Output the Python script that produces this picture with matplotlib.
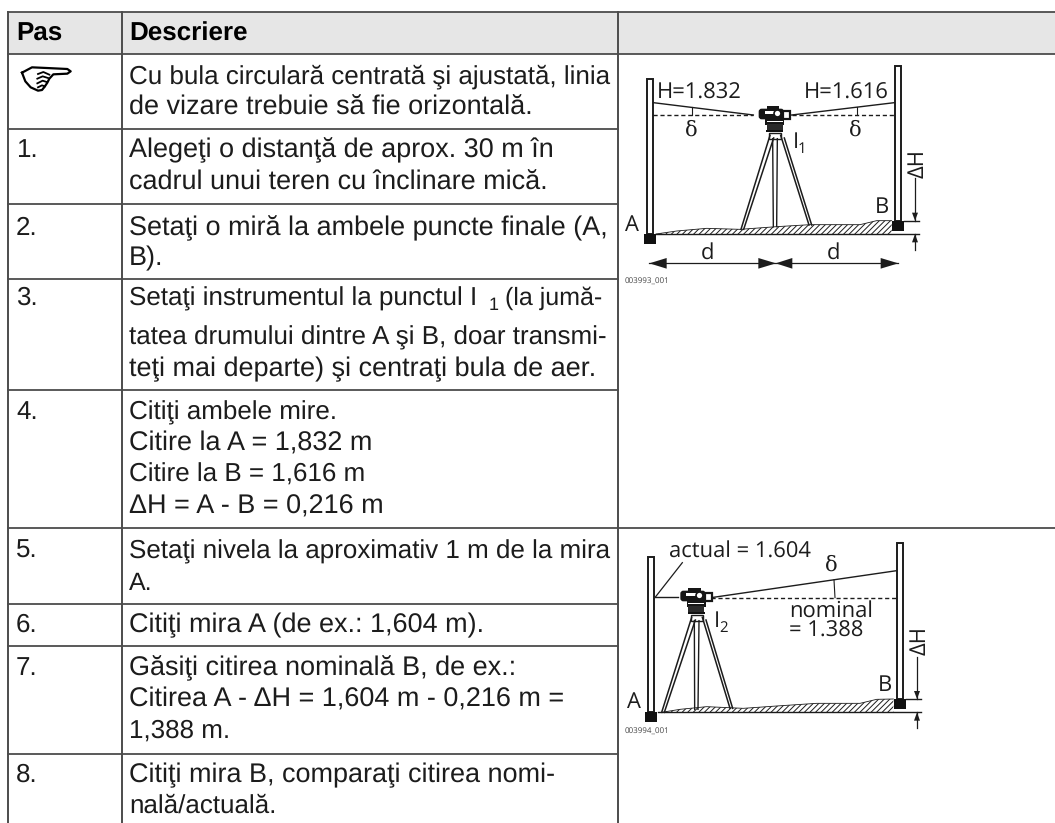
import matplotlib
matplotlib.use("Agg")
import matplotlib.pyplot as plt
from matplotlib.patches import FancyBboxPatch, Polygon, Rectangle

plt.rcParams["font.family"] = ["Liberation Sans", "DejaVu Sans"]
plt.rcParams["hatch.linewidth"] = 0.7
plt.rcParams["text.hinting"] = "no_hinting"
plt.rcParams["text.hinting_factor"] = 1

WIDTH, HEIGHT = 1055, 823
LINE = "#4c4c4c"
INK = "#1c1c1c"
TEXT_SIZE = 19.0
DIA_SIZE = 15.8

# table content
header = ["Pas", "Descriere"]
steps = ["", "1.", "2.", "3.", "4.", "5.", "6.", "7.", "8."]
descriptions = [
    ["Cu bula circulară centrată şi ajustată, linia",
     "de vizare trebuie să fie orizontală."],
    ["Alegeţi o distanţă de aprox. 30 m în",
     "cadrul unui teren cu înclinare mică."],
    ["Setaţi o miră la ambele puncte finale (A,",
     "B)."],
    ["Setaţi instrumentul la punctul I",
     "tatea drumului dintre A şi B, doar transmi-",
     "teţi mai departe) şi centraţi bula de aer."],
    ["Citiţi ambele mire.",
     "Citire la A = 1,832 m",
     "Citire la B = 1,616 m",
     "ΔH = A - B = 0,216 m"],
    ["Setaţi nivela la aproximativ 1 m de la mira",
     "A."],
    ["Citiţi mira A (de ex.: 1,604 m)."],
    ["Găsiţi citirea nominală B, de ex.:",
     "Citirea A - ΔH = 1,604 m - 0,216 m =",
     "1,388 m."],
    ["Citiţi mira B, comparaţi citirea nomi-",
     "nală/actuală."],
]
row_lines = [54, 129, 204, 278.5, 390, 528, 603.5, 646, 753.5]
first_baselines = [83, 157, 235, 305, 419, 558, 632, 675, 782]
line_offsets = [
    [0, 32], [0, 33], [0, 30], [0, 39, 71], [0, 32, 63, 95],
    [0, 32], [0], [0, 32, 63], [0, 31],
]
# right end of every description line
line_ends = [
    [607, 527], [548, 541], [600, 163], [484, 613, 589], [341, 370, 370, 382],
    [606, 153], [480], [510, 561, 231], [548, 278],
]
full_width_lines = [12, 54, 528]

# pointing hand outline, in units of a 3x crop of the cell
hand_x = [36, 66, 110, 172, 182, 172, 130, 118, 112, 104, 96, 84, 62, 46, 36]
hand_y = [44, 28, 30, 33, 40, 47, 49, 62, 74, 86, 96, 98, 88, 70, 44]
hand_folds = [
    ([84, 100, 118], [48, 42, 50]),
    ([82, 98, 114], [62, 55, 60]),
    ([82, 98, 110], [76, 68, 72]),
    ([84, 96, 104], [88, 82, 85]),
]

# diagram labels
readings_1 = ["H=1.832", "H=1.616"]
readings_2 = ["actual = 1.604", "nominal", "= 1.388"]
image_ids = ["003993_001", "003994_001"]

# terrain outlines, in units of the 3x crop of each diagram
terrain_1_x = [138, 200, 290, 390, 500, 600, 750, 800, 845]
terrain_1_y = [552, 543, 535, 538, 530, 524, 524, 512, 512]
terrain_2_x = [155, 210, 290, 400, 500, 620, 750, 800, 850]
terrain_2_y = [637, 628, 620, 625, 618, 610, 610, 598, 597]


def draw_hand(ax):
    ax.plot(hand_x, hand_y, color="black", lw=1.6, solid_joinstyle="round")
    for xs, ys in hand_folds:
        ax.plot(xs, ys, color="black", lw=1.3)


def fit_text(fig, text, x_start, x_end):
    # the source sets each line to its own width, so scale the size to match
    # 0.984: drawn lines came out about that much wider than the measured box
    renderer = fig.canvas.get_renderer()
    box = text.get_window_extent(renderer)
    text.set_fontsize(text.get_fontsize() * 0.984 * (x_end - x_start) / box.width)


def draw_table(fig, ax):
    ax.add_patch(Rectangle((8, 12), WIDTH - 8, 42, fc="#e6e6e6", ec="none"))
    for y in row_lines + [12]:
        x1 = WIDTH if y in full_width_lines else 618
        ax.plot([8, x1], [y, y], color=LINE, lw=1.3)
    for x in [8, 122, 618]:
        ax.plot([x, x], [12, HEIGHT], color=LINE, lw=1.4)

    ax.text(16, 41, header[0], fontsize=TEXT_SIZE, weight="bold", color="black")
    ax.text(129, 41, header[1], fontsize=TEXT_SIZE, weight="bold", color="black")

    for i, step in enumerate(steps):
        ax.text(16, first_baselines[i], step, fontsize=TEXT_SIZE, color=INK)
        for line, offset, x_end in zip(descriptions[i], line_offsets[i], line_ends[i]):
            text = ax.text(129, first_baselines[i] + offset, line,
                           fontsize=TEXT_SIZE, color=INK)
            fit_text(fig, text, 129, x_end)

    # rest of row 3, set after the subscript
    ax.text(489, first_baselines[3] + 5, "1", fontsize=13, color=INK)
    tail = ax.text(505, first_baselines[3], "(la jumă-", fontsize=TEXT_SIZE, color=INK)
    fit_text(fig, tail, 505, 604)


def draw_staff(ax, x0, x1, top, bottom):
    ax.add_patch(Rectangle((x0, top), x1 - x0, bottom - top, fc="white",
                           ec=INK, lw=1.4))
    ax.add_patch(Rectangle((x0 - 9, bottom), x1 - x0 + 18, 30, fc="#111111",
                           ec="none", zorder=3))


def draw_level(ax, cx, cy, ground_left, ground_mid, ground_right):
    # tripod
    head_y = cy + 60
    leg_x = [(cx - 12, ground_left[0], ground_left[1]),
             (cx + 20, ground_right[0], ground_right[1])]
    for x, gx, gy in leg_x:
        ax.plot([x, gx], [head_y, gy], color=INK, lw=1.1)
        ax.plot([x + 11, gx + 8], [head_y + 8, gy], color=INK, lw=1.1)
    ax.plot([cx - 4, ground_mid[0] - 4], [head_y + 10, ground_mid[1]], color=INK, lw=1.0)
    ax.plot([cx + 10, ground_mid[0] + 6], [head_y + 10, ground_mid[1]], color=INK, lw=1.0)
    ax.add_patch(Rectangle((cx - 14, head_y - 8), 36, 20, fc="white", ec=INK, lw=1.0))

    # body, telescope and base
    ax.add_patch(FancyBboxPatch((cx - 46, cy - 20), 76, 32,
                                boxstyle="round,pad=0,rounding_size=9",
                                fc="#161616", ec="none", zorder=4))
    ax.add_patch(Rectangle((cx + 28, cy - 12), 20, 24, fc="white", ec="#161616", lw=1.6, zorder=5))
    ax.add_patch(Rectangle((cx - 22, cy - 27), 38, 10, fc="#161616", ec="none", zorder=4))
    ax.add_patch(Rectangle((cx - 28, cy - 12), 32, 8, fc="white", ec="none", zorder=5))
    ax.add_patch(Rectangle((cx - 26, cy + 10), 56, 18, fc="#161616", ec="none", zorder=4))
    ax.add_patch(Rectangle((cx - 22, cy + 16), 48, 3, fc="white", ec="none", zorder=5))
    ax.add_patch(Rectangle((cx - 22, cy + 26), 48, 18, fc="#2a2a2a", ec="none", zorder=4))
    ax.add_patch(Rectangle((cx - 24, cy + 44), 52, 6, fc="#111111", ec="none", zorder=4))
    ax.plot([cx + 10], [cy - 6], "o", ms=5, mfc="white", mec="#161616", mew=1.2, zorder=6)


def draw_ground(ax, xs, ys, base_y, x_start, ledge_x, ledge_y, dim_x):
    points = list(zip(xs, ys)) + [(xs[-1], base_y), (x_start, base_y)]
    ax.add_patch(Polygon(points, closed=True, fc="white", ec=INK,
                         hatch="//////", lw=0))
    ax.plot(xs, ys, color=INK, lw=0.6)
    ax.plot([x_start, dim_x + 12], [base_y, base_y], color=INK, lw=1.0)
    ax.plot([ledge_x, dim_x + 12], [ledge_y, ledge_y], color=INK, lw=1.0)


def draw_height_dim(ax, x, top, ledge_y, base_y, bottom, label_y):
    ax.plot([x, x], [top, ledge_y], color=INK, lw=0.9)
    ax.plot([x, x], [base_y, bottom], color=INK, lw=0.9)
    ax.add_patch(Polygon([(x - 9, ledge_y - 24), (x + 9, ledge_y - 24), (x, ledge_y)], fc=INK, ec="none"))
    ax.add_patch(Polygon([(x - 9, base_y + 25), (x + 9, base_y + 25), (x, base_y)], fc=INK, ec="none"))
    ax.text(x + 8, label_y, "ΔH", rotation=90, ha="center", va="center",
            fontsize=DIA_SIZE, family="Open Sans", color=INK)


def label(ax, x, y, s, size=DIA_SIZE, **kw):
    ax.text(x, y, s, fontsize=size, family="Open Sans", color=INK, **kw)


def crop_axes(fig, left, top, width, height):
    ax = fig.add_axes([left / WIDTH, 1 - (top + height) / HEIGHT, width / WIDTH, height / HEIGHT])
    ax.set_xlim(0, width * 3)
    ax.set_ylim(height * 3, 0)
    ax.axis("off")
    ax.patch.set_alpha(0)
    return ax


def draw_diagram_1(ax):
    draw_ground(ax, terrain_1_x, terrain_1_y, 552, 138, 882, 512, 915)
    draw_staff(ax, 110, 130, 88, 552)
    draw_staff(ax, 854, 873, 48, 512)
    draw_level(ax, 492, 196, (393, 538), (494, 530), (597, 525))

    ax.plot([130, 430], [158, 195], color=INK, lw=1.0)
    ax.plot([545, 853], [195, 158], color=INK, lw=1.0)
    ax.plot([130, 430], [196, 196], color=INK, lw=1.0, ls=(0, (3, 2)))
    ax.plot([545, 853], [196, 196], color=INK, lw=1.0, ls=(0, (3, 2)))
    ax.plot([247, 247], [172, 196], color=INK, lw=0.8)
    ax.plot([740, 740], [172, 196], color=INK, lw=0.8)

    label(ax, 142, 145, readings_1[0])
    label(ax, 582, 145, readings_1[1])
    ax.text(245, 258, "δ", fontsize=15, family="DejaVu Serif", ha="center", color=INK)
    ax.text(737, 258, "δ", fontsize=15, family="DejaVu Serif", ha="center", color=INK)
    label(ax, 550, 295, "I")
    label(ax, 564, 308, "1", size=11)
    label(ax, 44, 542, "A")
    label(ax, 795, 488, "B")
    label(ax, 292, 625, "d", ha="center")
    label(ax, 670, 625, "d", ha="center")

    # distance arrows
    ax.plot([118, 865], [640, 640], color=INK, lw=0.9)
    for tip, tail in [(118, 170), (498, 445), (497, 547), (865, 812)]:
        ax.add_patch(Polygon([(tip, 640), (tail, 624), (tail, 656)], fc=INK, ec="none"))

    draw_height_dim(ax, 915, 385, 512, 552, 600, 340)
    ax.text(44, 700, image_ids[0], fontsize=5.8, family="Open Sans", color="#444444")


def draw_diagram_2(ax):
    draw_ground(ax, terrain_2_x, terrain_2_y, 637, 143, 888, 597, 921)
    draw_staff(ax, 113, 133, 170, 637)
    draw_staff(ax, 860, 879, 130, 597)
    draw_level(ax, 257, 292, (155, 637), (258, 628), (360, 625))

    ax.plot([135, 205], [292, 292], color=INK, lw=1.0)
    ax.plot([137, 217], [290, 188], color=INK, lw=0.9)
    ax.plot([303, 860], [293, 212], color=INK, lw=1.0)
    ax.plot([303, 860], [293, 293], color=INK, lw=1.0, ls=(0, (3, 2)))
    ax.plot([672, 675], [240, 293], color=INK, lw=0.8)

    label(ax, 177, 172, readings_2[0])
    label(ax, 538, 410, readings_2[1] + "\n" + readings_2[2], linespacing=0.85)
    ax.text(665, 213, "δ", fontsize=15, family="DejaVu Serif", ha="center", color=INK)
    label(ax, 313, 380, "I")
    label(ax, 328, 395, "2", size=11)
    label(ax, 50, 625, "A")
    label(ax, 803, 574, "B")

    draw_height_dim(ax, 921, 470, 597, 637, 685, 423)
    ax.text(44, 702, image_ids[1], fontsize=5.8, family="Open Sans", color="#444444")


fig = plt.figure(figsize=(WIDTH / 100, HEIGHT / 100), dpi=100)
table_ax = fig.add_axes([0, 0, 1, 1])
table_ax.set_xlim(0, WIDTH)
table_ax.set_ylim(HEIGHT, 0)
table_ax.axis("off")
draw_table(fig, table_ax)

draw_hand(crop_axes(fig, 10, 58, 70, 40))
draw_diagram_1(crop_axes(fig, 610, 50, 445, 250))
draw_diagram_2(crop_axes(fig, 610, 500, 445, 250))

fig.savefig("out.png", dpi=100)
